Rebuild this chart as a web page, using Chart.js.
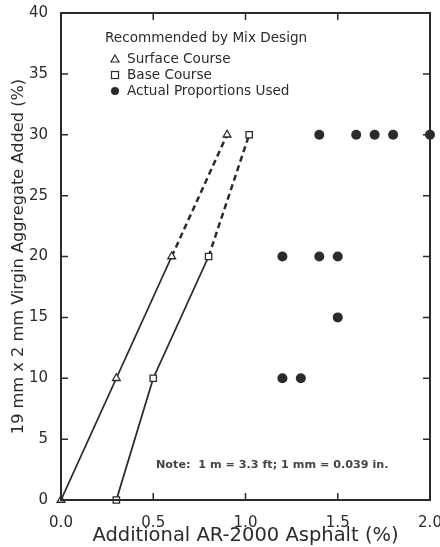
<!DOCTYPE html>
<html>
<head>
<meta charset="utf-8">
<script src="https://cdn.jsdelivr.net/npm/chart.js@4.4.0/dist/chart.umd.min.js"></script>
<style>
  html, body { margin: 0; padding: 0; background: #fff; }
  #wrap { width: 440px; height: 547px; }
</style>
</head>
<body>
<div id="wrap"><canvas id="chart" width="440" height="547"></canvas></div>
<script>
// values
const surfaceX = [0.0, 0.3, 0.6, 0.9];
const surfaceY = [0, 10, 20, 30];
const baseX = [0.3, 0.5, 0.8, 1.02];
const baseY = [0, 10, 20, 30];
const actualX = [1.4, 1.6, 1.7, 1.8, 2.0, 1.2, 1.4, 1.5, 1.5, 1.2, 1.3];
const actualY = [30, 30, 30, 30, 30, 20, 20, 20, 15, 10, 10];

const legendTitle = "Recommended by Mix Design";
const legendItems = ["Surface Course", "Base Course", "Actual Proportions Used"];
const noteText = "Note:  1 m = 3.3 ft; 1 mm = 0.039 in.";

const xTitle = "Additional AR-2000 Asphalt (%)";
const yTitle = "19 mm x 2 mm Virgin Aggregate Added (%)";

const toPoints = (xs, ys) => xs.map((x, i) => ({ x: x, y: ys[i] }));

const ink = "#2b2b2b";

// dashed above 20 %, solid below
const dashAbove20 = ctx => ctx.p0.parsed.y >= 20 ? [6, 4] : undefined;
const widthAbove20 = ctx => ctx.p0.parsed.y >= 20 ? 2.5 : 1.8;

// frame with inward ticks, legend and note
const framePlugin = {
  id: "frame",
  afterDatasetsDraw(chart) {
    const { ctx, chartArea: a, scales } = chart;
    ctx.save();
    ctx.strokeStyle = ink;
    ctx.lineWidth = 2;
    ctx.strokeRect(a.left, a.top, a.right - a.left, a.bottom - a.top);

    ctx.lineWidth = 1.5;
    const tl = 7;
    ctx.beginPath();
    scales.x.ticks.forEach(t => {
      if (t.value <= 0 || t.value >= 2) return;
      const px = scales.x.getPixelForValue(t.value);
      ctx.moveTo(px, a.bottom); ctx.lineTo(px, a.bottom - tl);
      ctx.moveTo(px, a.top); ctx.lineTo(px, a.top + tl);
    });
    scales.y.ticks.forEach(t => {
      if (t.value <= 0 || t.value >= 40) return;
      const py = scales.y.getPixelForValue(t.value);
      ctx.moveTo(a.left, py); ctx.lineTo(a.left + tl, py);
      ctx.moveTo(a.right, py); ctx.lineTo(a.right - tl, py);
    });
    ctx.stroke();

    // legend
    ctx.fillStyle = ink;
    ctx.font = "13.6px 'DejaVu Sans'";
    ctx.textBaseline = "middle";
    ctx.fillText(legendTitle, 105, 38);
    const rows = [59, 75, 91];
    legendItems.forEach((txt, i) => ctx.fillText(txt, 127, rows[i]));

    ctx.lineWidth = 1.2;
    ctx.fillStyle = "#fff";
    ctx.beginPath();
    ctx.moveTo(115, rows[0] - 4); ctx.lineTo(119, rows[0] + 3); ctx.lineTo(111, rows[0] + 3); ctx.closePath();
    ctx.fill(); ctx.stroke();
    ctx.fillRect(111.5, rows[1] - 3.5, 7, 7);
    ctx.strokeRect(111.5, rows[1] - 3.5, 7, 7);
    ctx.fillStyle = ink;
    ctx.beginPath();
    ctx.arc(115, rows[2], 4, 0, Math.PI * 2);
    ctx.fill();

    // note
    ctx.fillStyle = "#444";
    ctx.font = "bold 11.2px 'DejaVu Sans'";
    ctx.fillText(noteText, 156, 465);
    ctx.restore();
  }
};

new Chart(document.getElementById("chart"), {
  type: "scatter",
  data: {
    datasets: [
      {
        label: legendItems[0],
        data: toPoints(surfaceX, surfaceY),
        showLine: true,
        borderColor: ink,
        borderWidth: 1.8,
        segment: { borderDash: dashAbove20, borderWidth: widthAbove20 },
        pointStyle: "triangle",
        pointRadius: 4.5,
        pointBorderWidth: 1.3,
        pointBackgroundColor: "#fff",
        pointBorderColor: ink,
        clip: false
      },
      {
        label: legendItems[1],
        data: toPoints(baseX, baseY),
        showLine: true,
        borderColor: ink,
        borderWidth: 1.8,
        segment: { borderDash: dashAbove20, borderWidth: widthAbove20 },
        pointStyle: "rect",
        pointRadius: 4.5,
        pointBorderWidth: 1.3,
        pointBackgroundColor: "#fff",
        pointBorderColor: ink,
        clip: false
      },
      {
        label: legendItems[2],
        data: toPoints(actualX, actualY),
        showLine: false,
        pointStyle: "circle",
        pointRadius: 5,
        pointBorderWidth: 0,
        pointBackgroundColor: ink,
        clip: false
      }
    ]
  },
  options: {
    responsive: false,
    animation: false,
    layout: { padding: { left: 0, right: 10, top: 13, bottom: 0 } },
    plugins: { legend: { display: false }, tooltip: { enabled: false } },
    scales: {
      x: {
        type: "linear",
        min: 0, max: 2,
        grid: { display: false },
        border: { display: false },
        ticks: {
          stepSize: 0.5,
          padding: 6,
          color: ink,
          font: { family: "'DejaVu Sans'", size: 15 },
          callback: v => v.toFixed(1)
        },
        title: {
          display: true,
          text: xTitle,
          color: ink,
          font: { family: "'DejaVu Sans'", size: 19.5 },
          padding: { top: 0, bottom: -1 }
        },
        afterFit(s) { s.height = 47; s.paddingLeft = 0; s.paddingRight = 0; }
      },
      y: {
        type: "linear",
        min: 0, max: 40,
        grid: { display: false },
        border: { display: false },
        ticks: {
          stepSize: 5,
          padding: 5,
          color: ink,
          font: { family: "'DejaVu Sans'", size: 15 }
        },
        title: {
          display: true,
          text: yTitle,
          color: ink,
          font: { family: "'DejaVu Sans'", size: 16.2 },
          padding: { top: 9, bottom: 0 }
        },
        afterFit(s) { s.width = 61; s.paddingTop = 0; s.paddingBottom = 0; }
      }
    }
  },
  plugins: [framePlugin]
});
</script>
</body>
</html>
